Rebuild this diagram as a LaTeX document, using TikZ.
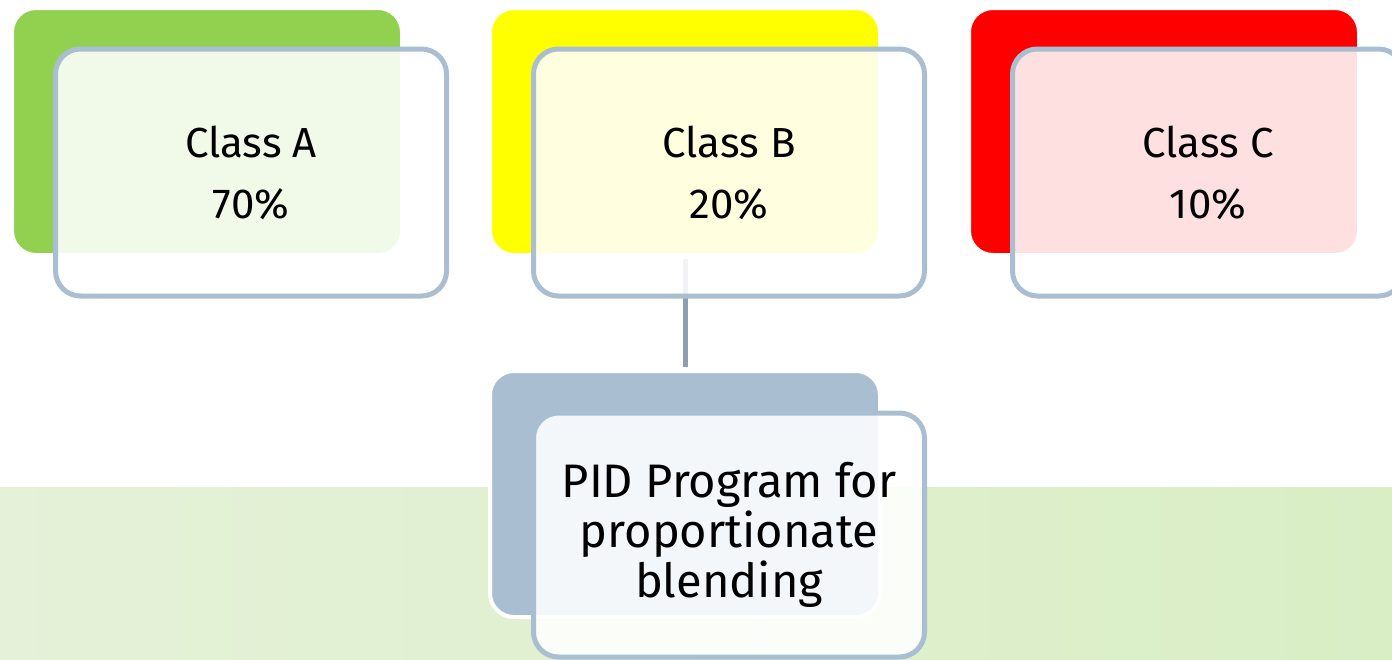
\documentclass[tikz,border=0pt]{standalone}
\usepackage{fontspec}
\setmainfont{Fira Sans}
\definecolor{gA}{HTML}{92D050}
\definecolor{yB}{HTML}{FFFF00}
\definecolor{rC}{HTML}{FF0000}
\definecolor{blueback}{HTML}{A9BFD1}
\definecolor{edge}{HTML}{A9BFD1}
\definecolor{conn}{HTML}{8C9FB1}
\definecolor{bandL}{HTML}{E5F1D8}
\definecolor{bandR}{HTML}{D9EEC5}
\tikzset{
  backbox/.style={rounded corners=12pt, minimum width=195pt, minimum height=123.5pt, inner sep=0pt, outer sep=0pt, draw=white, line width=2pt},
  frontbox/.style={rounded corners=12.5pt, minimum width=195.5pt, minimum height=123.5pt, inner sep=0pt, outer sep=0pt, draw=edge, line width=2.5pt, fill=white, fill opacity=0.88, text opacity=1, align=center},
  classtxt/.style={font=\fontsize{21}{30.5}\selectfont},
  pidtxt/.style={font=\fontsize{23.5}{25}\selectfont},
  connector/.style={draw=conn, line width=2.5pt}
}
\begin{document}
\begin{tikzpicture}[x=0.5pt,y=-0.5pt]
\useasboundingbox (0,0) rectangle (1392,659);
\begin{scope}
\clip (0,0) rectangle (1392,659);
% band
\shade[left color=bandL, right color=bandR] (0,487) rectangle (1392,659);
% back boxes
\node[backbox, fill=gA] (backA) at (207,131.5) {};
\node[backbox, fill=yB] (backB) at (685,131.5) {};
\node[backbox, fill=rC] (backC) at (1164,131.5) {};
\node[backbox, fill=blueback, minimum height=123pt] (backP) at (685,494) {};
% connector
\draw[connector, shorten >=2pt, shorten <=2pt] (backB.south) -- (backP.north);
% front boxes
\node[frontbox, classtxt] (frontA) at (251,172.5) {Class A\\70\%};
\node[frontbox, classtxt] (frontB) at (729,172.5) {Class B\\20\%};
\node[frontbox, classtxt] (frontC) at (1208,172.5) {Class C\\10\%};
\node[frontbox, pidtxt, minimum height=122pt] (frontP) at (729,535) {PID Program for\\proportionate\\blending};
\end{scope}
\end{tikzpicture}
\end{document}
